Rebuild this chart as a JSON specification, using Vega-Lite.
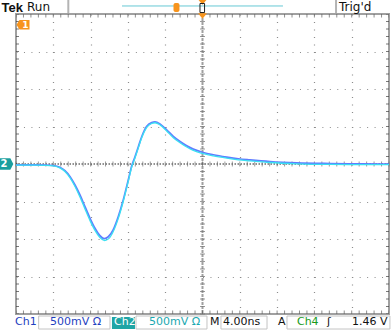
{
 "$schema": "https://vega.github.io/schema/vega-lite/v6.json",
 "width": 373,
 "height": 300,
 "autosize": {"type": "none"},
 "padding": {"left": 16, "top": 14, "right": 3, "bottom": 17},
 "background": "white",
 "config": {
  "view": {"stroke": "#a0a0a0", "strokeWidth": 2},
  "font": "DejaVu Sans",
  "axis": {"labels": false, "ticks": false, "domain": false, "grid": false}
 },
 "datasets": {
  "trace": [
   {"ch":"Ch1","t":-20,"v":-0.012},{"ch":"Ch1","t":-18,"v":-0.012},{"ch":"Ch1","t":-16.8,"v":-0.013},{"ch":"Ch1","t":-16,"v":-0.02},
   {"ch":"Ch1","t":-15.3,"v":-0.044},{"ch":"Ch1","t":-14.75,"v":-0.089},{"ch":"Ch1","t":-14.2,"v":-0.169},{"ch":"Ch1","t":-13.67,"v":-0.28},
   {"ch":"Ch1","t":-13.14,"v":-0.413},{"ch":"Ch1","t":-12.6,"v":-0.569},{"ch":"Ch1","t":-12.06,"v":-0.724},{"ch":"Ch1","t":-11.53,"v":-0.857},
   {"ch":"Ch1","t":-11.0,"v":-0.955},{"ch":"Ch1","t":-10.55,"v":-0.995},{"ch":"Ch1","t":-10.1,"v":-0.97},{"ch":"Ch1","t":-9.57,"v":-0.875},
   {"ch":"Ch1","t":-9.03,"v":-0.70},{"ch":"Ch1","t":-8.5,"v":-0.48},{"ch":"Ch1","t":-7.96,"v":-0.213},{"ch":"Ch1","t":-7.6,"v":-0.03},
   {"ch":"Ch1","t":-7.24,"v":0.097},{"ch":"Ch1","t":-6.88,"v":0.231},{"ch":"Ch1","t":-6.52,"v":0.364},{"ch":"Ch1","t":-6.0,"v":0.50},
   {"ch":"Ch1","t":-5.45,"v":0.553},{"ch":"Ch1","t":-5.09,"v":0.562},{"ch":"Ch1","t":-4.56,"v":0.535},{"ch":"Ch1","t":-3.84,"v":0.455},
   {"ch":"Ch1","t":-3.13,"v":0.368},{"ch":"Ch1","t":-2.41,"v":0.30},{"ch":"Ch1","t":-1.69,"v":0.243},{"ch":"Ch1","t":-0.99,"v":0.198},
   {"ch":"Ch1","t":0.09,"v":0.153},{"ch":"Ch1","t":1.16,"v":0.123},{"ch":"Ch1","t":2.6,"v":0.092},{"ch":"Ch1","t":3.84,"v":0.07},
   {"ch":"Ch1","t":5.09,"v":0.055},{"ch":"Ch1","t":7.24,"v":0.033},{"ch":"Ch1","t":10.1,"v":0.015},{"ch":"Ch1","t":13.67,"v":0.006},
   {"ch":"Ch1","t":17,"v":0.002},{"ch":"Ch1","t":20,"v":0.0},
   {"ch":"Ch2","t":-20,"v":-0.015},{"ch":"Ch2","t":-18,"v":-0.015},{"ch":"Ch2","t":-16.8,"v":-0.017},{"ch":"Ch2","t":-16,"v":-0.026},
   {"ch":"Ch2","t":-15.3,"v":-0.052},{"ch":"Ch2","t":-14.75,"v":-0.1},{"ch":"Ch2","t":-14.2,"v":-0.185},{"ch":"Ch2","t":-13.67,"v":-0.3},
   {"ch":"Ch2","t":-13.14,"v":-0.44},{"ch":"Ch2","t":-12.6,"v":-0.6},{"ch":"Ch2","t":-12.06,"v":-0.755},{"ch":"Ch2","t":-11.53,"v":-0.885},
   {"ch":"Ch2","t":-11.0,"v":-0.98},{"ch":"Ch2","t":-10.5,"v":-1.02},{"ch":"Ch2","t":-10.05,"v":-0.995},{"ch":"Ch2","t":-9.57,"v":-0.9},
   {"ch":"Ch2","t":-9.03,"v":-0.725},{"ch":"Ch2","t":-8.5,"v":-0.5},{"ch":"Ch2","t":-7.96,"v":-0.23},{"ch":"Ch2","t":-7.6,"v":-0.045},
   {"ch":"Ch2","t":-7.24,"v":0.08},{"ch":"Ch2","t":-6.88,"v":0.215},{"ch":"Ch2","t":-6.52,"v":0.35},{"ch":"Ch2","t":-6.0,"v":0.485},
   {"ch":"Ch2","t":-5.45,"v":0.54},{"ch":"Ch2","t":-5.09,"v":0.55},{"ch":"Ch2","t":-4.56,"v":0.522},{"ch":"Ch2","t":-3.84,"v":0.44},
   {"ch":"Ch2","t":-3.13,"v":0.35},{"ch":"Ch2","t":-2.41,"v":0.283},{"ch":"Ch2","t":-1.69,"v":0.226},{"ch":"Ch2","t":-0.99,"v":0.181},
   {"ch":"Ch2","t":0.09,"v":0.137},{"ch":"Ch2","t":1.16,"v":0.107},{"ch":"Ch2","t":2.6,"v":0.077},{"ch":"Ch2","t":3.84,"v":0.056},
   {"ch":"Ch2","t":5.09,"v":0.042},{"ch":"Ch2","t":7.24,"v":0.02},{"ch":"Ch2","t":10.1,"v":0.003},{"ch":"Ch2","t":13.67,"v":-0.006},
   {"ch":"Ch2","t":17,"v":-0.008},{"ch":"Ch2","t":20,"v":-0.008}
  ],
  "mx": [
   {"t":-20},{"t":-19.2},{"t":-18.4},{"t":-17.6},{"t":-16.8},{"t":-16},{"t":-15.2},{"t":-14.4},{"t":-13.6},{"t":-12.8},
   {"t":-12},{"t":-11.2},{"t":-10.4},{"t":-9.6},{"t":-8.8},{"t":-8},{"t":-7.2},{"t":-6.4},{"t":-5.6},{"t":-4.8},
   {"t":-4},{"t":-3.2},{"t":-2.4},{"t":-1.6},{"t":-0.8},{"t":0},{"t":0.8},{"t":1.6},{"t":2.4},{"t":3.2},
   {"t":4},{"t":4.8},{"t":5.6},{"t":6.4},{"t":7.2},{"t":8},{"t":8.8},{"t":9.6},{"t":10.4},{"t":11.2},
   {"t":12},{"t":12.8},{"t":13.6},{"t":14.4},{"t":15.2},{"t":16},{"t":16.8},{"t":17.6},{"t":18.4},{"t":19.2},{"t":20}
  ],
  "my": [
   {"v":-2},{"v":-1.9},{"v":-1.8},{"v":-1.7},{"v":-1.6},{"v":-1.5},{"v":-1.4},{"v":-1.3},{"v":-1.2},{"v":-1.1},
   {"v":-1},{"v":-0.9},{"v":-0.8},{"v":-0.7},{"v":-0.6},{"v":-0.5},{"v":-0.4},{"v":-0.3},{"v":-0.2},{"v":-0.1},
   {"v":0},{"v":0.1},{"v":0.2},{"v":0.3},{"v":0.4},{"v":0.5},{"v":0.6},{"v":0.7},{"v":0.8},{"v":0.9},
   {"v":1},{"v":1.1},{"v":1.2},{"v":1.3},{"v":1.4},{"v":1.5},{"v":1.6},{"v":1.7},{"v":1.8},{"v":1.9},{"v":2}
  ],
  "labels": [
   {"g":"bold","t":-21.55,"v":2.027,"label":"Tek"},
   {"g":"top","t":-18.82,"v":2.093,"label":"Run"},
   {"g":"top","t":14.64,"v":2.093,"label":"Trig'd"},
   {"g":"ch1","t":-20.11,"v":-2.113,"label":"Ch1"},
   {"g":"ch1","t":-16.35,"v":-2.113,"label":"500mV Ω"},
   {"g":"ch2w","t":-9.49,"v":-2.113,"label":"Ch2"},
   {"g":"ch2","t":-5.74,"v":-2.113,"label":"500mV Ω"},
   {"g":"blk","t":0.80,"v":-2.113,"label":"M"},
   {"g":"blk","t":2.20,"v":-2.113,"label":"4.00ns"},
   {"g":"blk","t":8.10,"v":-2.113,"label":"A"},
   {"g":"ch4","t":10.13,"v":-2.113,"label":"Ch4"},
   {"g":"blk","t":13.35,"v":-2.113,"label":"ʃ"},
   {"g":"blk","t":16.03,"v":-2.113,"label":"1.46 V"}
  ]
 },
 "layer": [
  {
   "data": {"values": [{}]},
   "mark": {"type": "rule", "color": "#a0a0a0", "strokeWidth": 2, "strokeDash": [3, 1]},
   "encoding": {"x": {"datum": 0, "type": "quantitative", "scale": {"domain": [-20, 20], "nice": false}}}
  },
  {
   "data": {"values": [{}]},
   "mark": {"type": "rule", "color": "#222222", "strokeWidth": 1, "strokeDash": [1.5, 1.5]},
   "encoding": {"y": {"datum": 0, "type": "quantitative", "scale": {"domain": [-2, 2], "nice": false}}}
  },
  {
   "data": {"name": "mx"},
   "mark": {"type": "tick", "orient": "vertical", "size": 5, "thickness": 1, "color": "#707070"},
   "encoding": {
    "x": {"field": "t", "type": "quantitative", "scale": {"domain": [-20, 20], "nice": false}, "title": null},
    "y": {"datum": 0, "type": "quantitative", "scale": {"domain": [-2, 2], "nice": false}}
   }
  },
  {
   "data": {"name": "my"},
   "mark": {"type": "tick", "orient": "horizontal", "size": 5, "thickness": 1, "color": "#707070"},
   "encoding": {
    "y": {"field": "v", "type": "quantitative", "scale": {"domain": [-2, 2], "nice": false}, "title": null},
    "x": {"datum": 0, "type": "quantitative", "scale": {"domain": [-20, 20], "nice": false}}
   }
  },
  {
   "data": {"name": "mx"},
   "mark": {"type": "tick", "orient": "vertical", "size": 7, "thickness": 1, "color": "#606060", "clip": true},
   "encoding": {
    "x": {"field": "t", "type": "quantitative", "scale": {"domain": [-20, 20], "nice": false}, "title": null},
    "y": {"datum": 2, "type": "quantitative", "scale": {"domain": [-2, 2], "nice": false}}
   }
  },
  {
   "data": {"name": "mx"},
   "mark": {"type": "tick", "orient": "vertical", "size": 7, "thickness": 1, "color": "#606060", "clip": true},
   "encoding": {
    "x": {"field": "t", "type": "quantitative", "scale": {"domain": [-20, 20], "nice": false}, "title": null},
    "y": {"datum": -2, "type": "quantitative", "scale": {"domain": [-2, 2], "nice": false}}
   }
  },
  {
   "data": {"name": "my"},
   "mark": {"type": "tick", "orient": "horizontal", "size": 6, "thickness": 1, "color": "#404040", "clip": true},
   "encoding": {
    "y": {"field": "v", "type": "quantitative", "scale": {"domain": [-2, 2], "nice": false}, "title": null},
    "x": {"datum": -20, "type": "quantitative", "scale": {"domain": [-20, 20], "nice": false}}
   }
  },
  {
   "data": {"name": "my"},
   "mark": {"type": "tick", "orient": "horizontal", "size": 6, "thickness": 1, "color": "#404040", "clip": true},
   "encoding": {
    "y": {"field": "v", "type": "quantitative", "scale": {"domain": [-2, 2], "nice": false}, "title": null},
    "x": {"datum": 20, "type": "quantitative", "scale": {"domain": [-20, 20], "nice": false}}
   }
  },
  {
   "data": {"name": "trace"},
   "transform": [{"filter": "datum.ch === 'Ch1'"}],
   "mark": {"type": "line", "color": "#5f7cff", "strokeWidth": 1.7, "interpolate": "monotone"},
   "encoding": {
    "x": {"field": "t", "type": "quantitative", "scale": {"domain": [-20, 20], "nice": false},
     "axis": {"values": [-16, -12, -8, -4, 4, 8, 12, 16], "grid": true, "gridColor": "#8c8c8c", "gridDash": [1, 6.5], "gridWidth": 1.2, "labels": false, "ticks": false, "domain": false, "title": null}},
    "y": {"field": "v", "type": "quantitative", "scale": {"domain": [-2, 2], "nice": false},
     "axis": {"values": [-1.5, -1, -0.5, 0.5, 1, 1.5], "grid": true, "gridColor": "#8c8c8c", "gridDash": [1, 6.46], "gridWidth": 1.2, "labels": false, "ticks": false, "domain": false, "title": null}}
   }
  },
  {
   "data": {"name": "trace"},
   "transform": [{"filter": "datum.ch === 'Ch2'"}],
   "mark": {"type": "line", "color": "#3ae0f2", "strokeWidth": 1.3, "interpolate": "monotone"},
   "encoding": {
    "x": {"field": "t", "type": "quantitative", "scale": {"domain": [-20, 20], "nice": false}, "title": null},
    "y": {"field": "v", "type": "quantitative", "scale": {"domain": [-2, 2], "nice": false}, "title": null}
   }
  },
  {
   "data": {"values": [{"t": -19.25, "v": 1.857}]},
   "mark": {"type": "point", "filled": true, "opacity": 1, "color": "#f7941d", "size": 169, "shape": "M-1,0 L-0.55,-0.72 L1,-0.72 L1,0.72 L-0.55,0.72 Z"},
   "encoding": {
    "x": {"field": "t", "type": "quantitative", "scale": {"domain": [-20, 20], "nice": false}, "title": null},
    "y": {"field": "v", "type": "quantitative", "scale": {"domain": [-2, 2], "nice": false}, "title": null}
   }
  },
  {
   "data": {"values": [{"t": -19.0, "v": 1.857, "label": "1"}]},
   "mark": {"type": "text", "color": "white", "fontSize": 9, "fontWeight": "bold", "align": "center", "baseline": "middle"},
   "encoding": {
    "x": {"field": "t", "type": "quantitative", "scale": {"domain": [-20, 20], "nice": false}, "title": null},
    "y": {"field": "v", "type": "quantitative", "scale": {"domain": [-2, 2], "nice": false}, "title": null},
    "text": {"field": "label"}
   }
  },
  {
   "data": {"values": [{"t": -21.0, "v": 0}]},
   "mark": {"type": "point", "filled": true, "opacity": 1, "color": "#1a9e9e", "size": 177, "shape": "M1,0 L0.55,-0.88 L-1,-0.88 L-1,0.88 L0.55,0.88 Z"},
   "encoding": {
    "x": {"field": "t", "type": "quantitative", "scale": {"domain": [-20, 20], "nice": false}, "title": null},
    "y": {"field": "v", "type": "quantitative", "scale": {"domain": [-2, 2], "nice": false}, "title": null}
   }
  },
  {
   "data": {"values": [{"t": -21.3, "v": 0, "label": "2"}]},
   "mark": {"type": "text", "color": "white", "fontSize": 10, "fontWeight": "bold", "align": "center", "baseline": "middle"},
   "encoding": {
    "x": {"field": "t", "type": "quantitative", "scale": {"domain": [-20, 20], "nice": false}, "title": null},
    "y": {"field": "v", "type": "quantitative", "scale": {"domain": [-2, 2], "nice": false}, "title": null},
    "text": {"field": "label"}
   }
  },
  {
   "data": {"values": [{"t": 0, "v": 1.973}, {"t": 0, "v": 2.16}]},
   "mark": {"type": "point", "filled": true, "opacity": 1, "color": "#f7941d", "size": 81, "shape": "M-1,-0.6 L1,-0.6 L0,0.6 Z"},
   "encoding": {
    "x": {"field": "t", "type": "quantitative", "scale": {"domain": [-20, 20], "nice": false}, "title": null},
    "y": {"field": "v", "type": "quantitative", "scale": {"domain": [-2, 2], "nice": false}, "title": null}
   }
  },
  {
   "data": {"values": [{"t": -8.63, "t2": 8.63, "v": 2.107}]},
   "mark": {"type": "rule", "color": "#66c8d4", "strokeWidth": 1},
   "encoding": {
    "x": {"field": "t", "type": "quantitative", "scale": {"domain": [-20, 20], "nice": false}, "title": null},
    "x2": {"field": "t2"},
    "y": {"field": "v", "type": "quantitative", "scale": {"domain": [-2, 2], "nice": false}, "title": null}
   }
  },
  {
   "data": {"values": [{"t": -14.39, "v": 2.187, "v2": 2.013}, {"t": 14.32, "v": 2.187, "v2": 2.013}]},
   "mark": {"type": "rule", "color": "#b4b4b4", "strokeWidth": 2},
   "encoding": {
    "x": {"field": "t", "type": "quantitative", "scale": {"domain": [-20, 20], "nice": false}, "title": null},
    "y": {"field": "v", "type": "quantitative", "scale": {"domain": [-2, 2], "nice": false}, "title": null},
    "y2": {"field": "v2"}
   }
  },
  {
   "data": {"values": [{"t": -3.11, "t2": -2.47, "v": 2.147, "v2": 2.027}]},
   "mark": {"type": "rect", "color": "#f7941d", "cornerRadius": 2},
   "encoding": {
    "x": {"field": "t", "type": "quantitative", "scale": {"domain": [-20, 20], "nice": false}, "title": null},
    "x2": {"field": "t2"},
    "y": {"field": "v", "type": "quantitative", "scale": {"domain": [-2, 2], "nice": false}, "title": null},
    "y2": {"field": "v2"}
   }
  },
  {
   "data": {"values": [{"t": -0.27, "t2": 0.22, "v": 2.14, "v2": 2.02}]},
   "mark": {"type": "rect", "fill": "transparent", "stroke": "#222222", "strokeWidth": 1},
   "encoding": {
    "x": {"field": "t", "type": "quantitative", "scale": {"domain": [-20, 20], "nice": false}, "title": null},
    "x2": {"field": "t2"},
    "y": {"field": "v", "type": "quantitative", "scale": {"domain": [-2, 2], "nice": false}, "title": null},
    "y2": {"field": "v2"}
   }
  },
  {
   "data": {"values": [
    {"t": -17.57, "t2": -9.92, "v": -2.027, "v2": -2.2},
    {"t": -7.13, "t2": 0.48, "v": -2.027, "v2": -2.2},
    {"t": 1.98, "t2": 6.92, "v": -2.027, "v2": -2.2},
    {"t": 9.06, "t2": 20.1, "v": -2.027, "v2": -2.2}
   ]},
   "mark": {"type": "rect", "fill": "transparent", "stroke": "#c4c4c4", "strokeWidth": 1},
   "encoding": {
    "x": {"field": "t", "type": "quantitative", "scale": {"domain": [-20, 20], "nice": false}, "title": null},
    "x2": {"field": "t2"},
    "y": {"field": "v", "type": "quantitative", "scale": {"domain": [-2, 2], "nice": false}, "title": null},
    "y2": {"field": "v2"}
   }
  },
  {
   "data": {"values": [{"t": -9.71, "t2": -7.24, "v": -2.04, "v2": -2.2}]},
   "mark": {"type": "rect", "color": "#1fa5a5"},
   "encoding": {
    "x": {"field": "t", "type": "quantitative", "scale": {"domain": [-20, 20], "nice": false}, "title": null},
    "x2": {"field": "t2"},
    "y": {"field": "v", "type": "quantitative", "scale": {"domain": [-2, 2], "nice": false}, "title": null},
    "y2": {"field": "v2"}
   }
  },
  {
   "data": {"name": "labels"},
   "transform": [{"filter": "datum.g === 'bold'"}],
   "mark": {"type": "text", "font": "Liberation Sans", "fontSize": 13, "fontWeight": "bold", "color": "#111111", "align": "left", "baseline": "alphabetic"},
   "encoding": {
    "x": {"field": "t", "type": "quantitative", "scale": {"domain": [-20, 20], "nice": false}, "title": null},
    "y": {"field": "v", "type": "quantitative", "scale": {"domain": [-2, 2], "nice": false}, "title": null},
    "text": {"field": "label"}
   }
  },
  {
   "data": {"name": "labels"},
   "transform": [{"filter": "datum.g === 'top'"}],
   "mark": {"type": "text", "fontSize": 12, "color": "#111111", "align": "left", "baseline": "middle"},
   "encoding": {
    "x": {"field": "t", "type": "quantitative", "scale": {"domain": [-20, 20], "nice": false}, "title": null},
    "y": {"field": "v", "type": "quantitative", "scale": {"domain": [-2, 2], "nice": false}, "title": null},
    "text": {"field": "label"}
   }
  },
  {
   "data": {"name": "labels"},
   "transform": [{"filter": "datum.g === 'ch1'"}],
   "mark": {"type": "text", "fontSize": 11, "color": "#1f3fbf", "align": "left", "baseline": "middle"},
   "encoding": {
    "x": {"field": "t", "type": "quantitative", "scale": {"domain": [-20, 20], "nice": false}, "title": null},
    "y": {"field": "v", "type": "quantitative", "scale": {"domain": [-2, 2], "nice": false}, "title": null},
    "text": {"field": "label"}
   }
  },
  {
   "data": {"name": "labels"},
   "transform": [{"filter": "datum.g === 'ch2w'"}],
   "mark": {"type": "text", "fontSize": 11, "color": "white", "align": "left", "baseline": "middle"},
   "encoding": {
    "x": {"field": "t", "type": "quantitative", "scale": {"domain": [-20, 20], "nice": false}, "title": null},
    "y": {"field": "v", "type": "quantitative", "scale": {"domain": [-2, 2], "nice": false}, "title": null},
    "text": {"field": "label"}
   }
  },
  {
   "data": {"name": "labels"},
   "transform": [{"filter": "datum.g === 'ch2'"}],
   "mark": {"type": "text", "fontSize": 11, "color": "#1aa8b0", "align": "left", "baseline": "middle"},
   "encoding": {
    "x": {"field": "t", "type": "quantitative", "scale": {"domain": [-20, 20], "nice": false}, "title": null},
    "y": {"field": "v", "type": "quantitative", "scale": {"domain": [-2, 2], "nice": false}, "title": null},
    "text": {"field": "label"}
   }
  },
  {
   "data": {"name": "labels"},
   "transform": [{"filter": "datum.g === 'blk'"}],
   "mark": {"type": "text", "fontSize": 11, "color": "#111111", "align": "left", "baseline": "middle"},
   "encoding": {
    "x": {"field": "t", "type": "quantitative", "scale": {"domain": [-20, 20], "nice": false}, "title": null},
    "y": {"field": "v", "type": "quantitative", "scale": {"domain": [-2, 2], "nice": false}, "title": null},
    "text": {"field": "label"}
   }
  },
  {
   "data": {"name": "labels"},
   "transform": [{"filter": "datum.g === 'ch4'"}],
   "mark": {"type": "text", "fontSize": 11, "color": "#1a9a1a", "align": "left", "baseline": "middle"},
   "encoding": {
    "x": {"field": "t", "type": "quantitative", "scale": {"domain": [-20, 20], "nice": false}, "title": null},
    "y": {"field": "v", "type": "quantitative", "scale": {"domain": [-2, 2], "nice": false}, "title": null},
    "text": {"field": "label"}
   }
  }
 ]
}
